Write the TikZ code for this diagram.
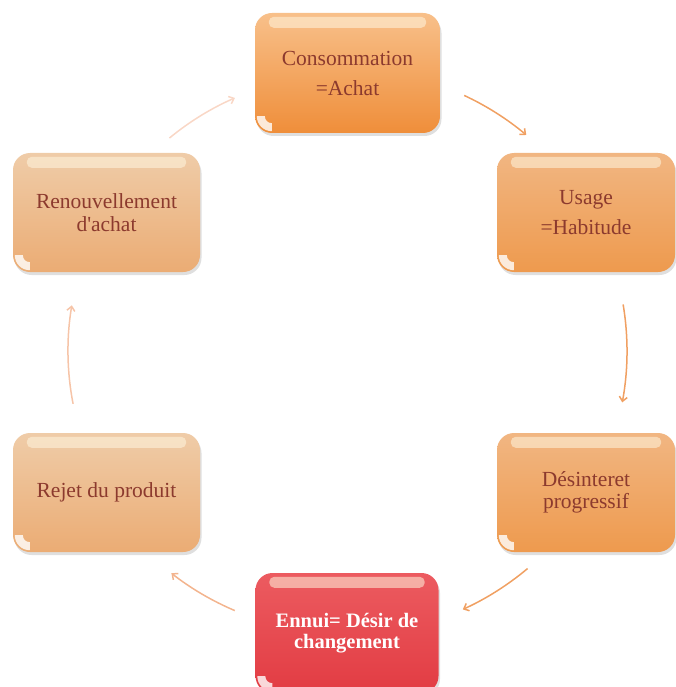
\documentclass[tikz,border=0pt]{standalone}
\usepackage{fontspec}
\setmainfont{Liberation Serif}
\usetikzlibrary{arrows.meta,shadows,calc}
\definecolor{txtc}{HTML}{8C3A2E}
\definecolor{consT}{HTML}{F8C08A}
\definecolor{consB}{HTML}{EF8E3A}
\definecolor{midT}{HTML}{F1B682}
\definecolor{midB}{HTML}{EE9A4E}
\definecolor{lightT}{HTML}{EFCCA8}
\definecolor{lightB}{HTML}{EBAC74}
\definecolor{redT}{HTML}{EC5B60}
\definecolor{redB}{HTML}{E23C43}
\definecolor{arrA}{HTML}{F0A062}
\definecolor{arrB}{HTML}{F3B48E}
\definecolor{arrC}{HTML}{F6C4A8}
\definecolor{arrD}{HTML}{F9D7C6}
\definecolor{glossc}{HTML}{FFF6E0}
\begin{document}
\begin{tikzpicture}[x=1pt,y=1pt]
\useasboundingbox (0,0) rectangle (675,-687);
\tikzset{
  box/.style={rounded corners=17pt, align=center, inner sep=0pt,
    drop shadow={opacity=0.25, shadow xshift=1.5pt, shadow yshift=-3pt},
    text=txtc, font=\fontsize{21.5}{30}\selectfont},
  boxtight/.style={font=\fontsize{21.5}{22.5}\selectfont},
  gloss/.style={glossc, opacity=0.55},
  arr/.style={line width=1.5pt, -{Straight Barb[length=4.5pt,width=8pt]}}
}
\node[box, minimum width=185pt, minimum height=120pt, top color=consT, bottom color=consB] (cons) at (347.5,-73) {Consommation\\=Achat};
\node[box, minimum width=178pt, minimum height=119pt, top color=midT, bottom color=midB] (usage) at (586,-212.5) {Usage\\=Habitude};
\node[box, boxtight, minimum width=178pt, minimum height=119pt, top color=midT, bottom color=midB] (desint) at (586,-492.5) {Désinteret\\progressif};
\node[box, minimum width=183pt, minimum height=120pt, top color=redT, bottom color=redB, text=white, font=\bfseries\fontsize{20.5}{21.5}\selectfont] (ennui) at (347,-633) {Ennui= Désir de\\changement};
\node[box, boxtight, minimum width=187pt, minimum height=119pt, top color=lightT, bottom color=lightB] (rejet) at (106.5,-492.5) {Rejet du produit};
\node[box, boxtight, minimum width=187pt, minimum height=119pt, top color=lightT, bottom color=lightB] (renouv) at (106.5,-212.5) {Renouvellement\\d\textquotesingle achat};
\foreach \n in {cons,usage,desint,ennui,rejet,renouv}{
  \fill[gloss, rounded corners=5pt] ([xshift=14pt,yshift=-4pt]\n.north west) rectangle ([xshift=-14pt,yshift=-15pt]\n.north east);
  \fill[white, opacity=0.8] ($(\n.south west)+(2,17)$) arc[start angle=180,end angle=270,radius=15pt] -- ++(0,8) arc[start angle=270,end angle=180,radius=7pt] -- cycle;
}
\coordinate (ctr) at (345,-351);
\draw[arr, arrA] ([shift={(65:282)}]ctr) arc[start angle=65,end angle=50,radius=282];
\draw[arr, arrA] ([shift={(9.5:282)}]ctr) arc[start angle=9.5,end angle=-10.5,radius=282];
\draw[arr, arrA] ([shift={(-50:284)}]ctr) arc[start angle=-50,end angle=-65.5,radius=284];
\draw[arr, arrB] ([shift={(-113:282)}]ctr) arc[start angle=-113,end angle=-128,radius=282];
\draw[arr, arrC] ([shift={(-169:277)}]ctr) arc[start angle=-169,end angle=-189.5,radius=277];
\draw[arr, arrD] ([shift={(129.5:276)}]ctr) arc[start angle=129.5,end angle=113.5,radius=276];
\end{tikzpicture}
\end{document}
